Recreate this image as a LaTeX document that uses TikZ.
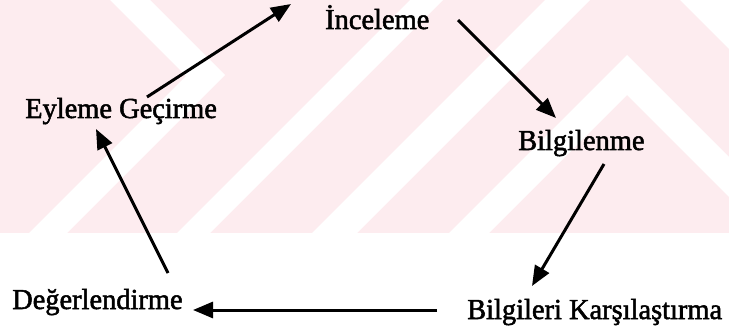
\documentclass[tikz,border=0pt]{standalone}
\usepackage{fontspec}
\setmainfont{Liberation Serif}[FakeStretch=0.98, FakeBold=1.8]
\usetikzlibrary{arrows.meta}
\definecolor{wmpink}{RGB}{253,236,239}
\tikzset{
  lbl/.style={anchor=base west, inner sep=0pt, font=\fontsize{29}{32}\selectfont},
  arr/.style={line width=3pt, -{Triangle[length=20pt,width=16pt]}},
  band/.style={fill=white, draw=none}
}
\begin{document}
\begin{tikzpicture}[x=1pt, y=-1pt]
\useasboundingbox (0,0) rectangle (729,334);
% watermark: pale pink field with white diagonal bands
\begin{scope}
  \clip (0,0) rectangle (729,233);
  \fill[wmpink] (0,0) rectangle (729,233);
  \fill[band] (110,0) -- (150,0) -- (225,75) -- (67,233) -- (29,233) -- (186,76) -- cycle;
  \fill[band] (410,0) -- (443,0) -- (210,233) -- (177,233) -- cycle;
  \fill[band] (545,0) -- (590,0) -- (357,233) -- (312,233) -- cycle;
  \fill[band] (627,55) -- (805,233) -- (765,233) -- (627,95) -- (489,233) -- (449,233) -- cycle;
  \fill[band] (680,0) -- (729,0) -- (729,49) -- cycle;
\end{scope}
% stages of the cycle
\node[lbl] (ince) at (325,29) {İnceleme};
\node[lbl] (bilg) at (518,150) {Bilgilenme};
\node[lbl] (kars) at (467,319) {Bilgileri Karşılaştırma};
\node[lbl] (deger) at (12,309) {Değerlendirme};
\node[lbl] (eylem) at (25,118) {Eyleme Geçirme};
% arrow ends
\coordinate (e1s) at (147,97);  \coordinate (e1t) at (291,4);
\coordinate (e2s) at (458,20);  \coordinate (e2t) at (556,118);
\coordinate (e3s) at (604,164); \coordinate (e3t) at (532,286);
\coordinate (e4s) at (437,310); \coordinate (e4t) at (193,310);
\coordinate (e5s) at (168,273); \coordinate (e5t) at (96,129);
\draw[arr] (e1s) -- (e1t);
\draw[arr] (e2s) -- (e2t);
\draw[arr] (e3s) -- (e3t);
\draw[arr] (e4s) -- (e4t);
\draw[arr] (e5s) -- (e5t);
\end{tikzpicture}
\end{document}
